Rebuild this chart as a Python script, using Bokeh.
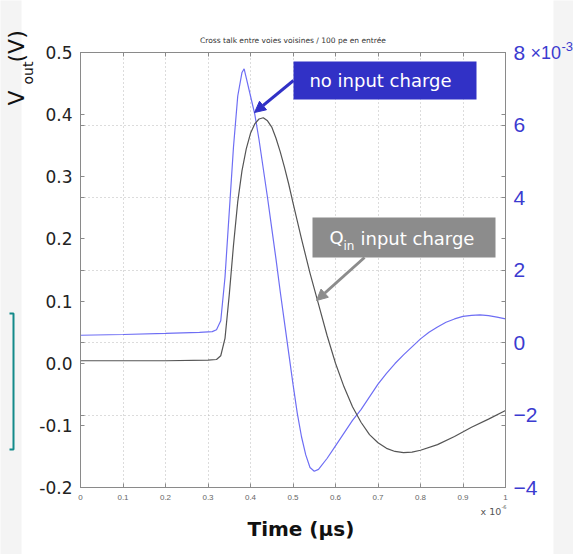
from bokeh.embed import file_html
from bokeh.models import (Arrow, BoxAnnotation, CustomJSTickFormatter, FixedTicker,
                          Grid, Label, LinearAxis, NormalHead, Range1d, Title)
from bokeh.plotting import figure
from bokeh.resources import INLINE

# ---- data -----------------------------------------------------------------
# Output with input charge Q_in (left axis, V); time in units of 1e-6 s
t_qin = [0.00, 0.10, 0.20, 0.30, 0.32, 0.33, 0.34, 0.35, 0.36, 0.37, 0.38,
         0.39, 0.40, 0.41, 0.42, 0.43, 0.44, 0.45, 0.46, 0.47, 0.48, 0.49,
         0.50, 0.52, 0.54, 0.56, 0.58, 0.60, 0.62, 0.64, 0.66, 0.68, 0.70,
         0.72, 0.74, 0.76, 0.78, 0.80, 0.84, 0.88, 0.92, 0.96, 1.00]
v_qin = [0.004, 0.004, 0.004, 0.005, 0.006, 0.012, 0.040, 0.110, 0.190,
         0.260, 0.310, 0.345, 0.370, 0.385, 0.393, 0.395, 0.390, 0.380,
         0.362, 0.340, 0.315, 0.288, 0.258, 0.200, 0.145, 0.095, 0.045,
         0.000, -0.038, -0.070, -0.095, -0.115, -0.128, -0.137, -0.142,
         -0.144, -0.143, -0.140, -0.131, -0.118, -0.103, -0.090, -0.076]

# Crosstalk on the neighbouring channel, no input charge (right axis, x1e-3 V)
t_noq = [0.00, 0.10, 0.20, 0.28, 0.31, 0.32, 0.33, 0.34, 0.35, 0.36, 0.37,
         0.38, 0.385, 0.39, 0.40, 0.41, 0.42, 0.43, 0.44, 0.45, 0.46, 0.47,
         0.48, 0.49, 0.50, 0.51, 0.52, 0.53, 0.54, 0.55, 0.56, 0.58, 0.60,
         0.62, 0.64, 0.66, 0.68, 0.70, 0.72, 0.74, 0.76, 0.78, 0.80, 0.82,
         0.84, 0.86, 0.88, 0.90, 0.92, 0.94, 0.96, 0.98, 1.00]
v_noq = [0.20, 0.22, 0.25, 0.28, 0.30, 0.35, 0.60, 1.80, 3.60, 5.40, 6.80,
         7.45, 7.55, 7.30, 6.80, 6.30, 5.60, 4.80, 4.00, 3.15, 2.30, 1.40,
         0.55, -0.30, -1.15, -1.95, -2.60, -3.10, -3.45, -3.55, -3.50, -3.20,
         -2.85, -2.50, -2.15, -1.85, -1.50, -1.15, -0.85, -0.58, -0.34,
         -0.12, 0.10, 0.28, 0.43, 0.56, 0.65, 0.72, 0.75, 0.76, 0.74, 0.70,
         0.65]

x_ticks = [0.0, 0.1, 0.2, 0.3, 0.4, 0.5, 0.6, 0.7, 0.8, 0.9, 1.0]
x_tick_labels = ["0", "0.1", "0.2", "0.3", "0.4", "0.5", "0.6", "0.7", "0.8",
                 "0.9", "1"]
left_ticks = [-0.2, -0.1, 0.0, 0.1, 0.2, 0.3, 0.4, 0.5]
left_tick_labels = ["-0.2", "-0.1", "0.0", "0.1", "0.2", "0.3", "0.4", "0.5"]
right_ticks = [-4, -2, 0, 2, 4, 6, 8]

LEFT_RANGE = (-0.2, 0.5)
RIGHT_RANGE = (-4, 8)

# ---- geometry ---------------------------------------------------------------
W, H = 573, 554
BL, BR, BT, BB = 80, 68, 52, 67
FW, FH = W - BL - BR, H - BT - BB

SANS = "Liberation Sans"
WIDE = "DejaVu Sans"
AXIS_GRAY = "#8a8a8a"
BLUE_LINE = "#6e6ef4"
BLUE_TEXT = "#3b3bd0"
BLUE_BOX = "#3131c6"
GRAY_BOX = "#8c8c8c"
TEAL = "#138a8a"
MARGIN_GRAY = "#f4f4f4"


def dx(px):
    """canvas x pixel -> data x"""
    return (px - BL) / FW


def dy(py):
    """canvas y pixel -> left-axis data y"""
    lo, hi = LEFT_RANGE
    return hi - (py - BT) / FH * (hi - lo)


def right_to_left(r):
    lo, hi = LEFT_RANGE
    rlo, rhi = RIGHT_RANGE
    return lo + (r - rlo) / (rhi - rlo) * (hi - lo)


def left_to_right(v):
    lo, hi = LEFT_RANGE
    rlo, rhi = RIGHT_RANGE
    return rlo + (v - lo) / (hi - lo) * (rhi - rlo)


p = figure(width=W, height=H, x_range=Range1d(0, 1),
           y_range=Range1d(*LEFT_RANGE), x_axis_type=None, y_axis_type=None,
           output_backend="svg", toolbar_location=None)
p.extra_y_ranges = {"right": Range1d(*RIGHT_RANGE)}
p.min_border_left, p.min_border_right = BL, BR
p.min_border_top, p.min_border_bottom = BT, BB
p.background_fill_color = "white"
p.border_fill_color = "white"
p.outline_line_color = AXIS_GRAY
p.outline_line_width = 1

# pale strips along the left and right page edges
for x0, x1 in [(0, 21), (553, W)]:
    p.patch([dx(x0), dx(x1), dx(x1), dx(x0)], [dy(0), dy(0), dy(H), dy(H)],
            fill_color=MARGIN_GRAY, line_color=None, level="guide")


def style_axis(ax):
    ax.axis_line_color = AXIS_GRAY
    ax.major_tick_line_color = AXIS_GRAY
    ax.minor_tick_line_color = AXIS_GRAY
    ax.major_tick_in, ax.major_tick_out = 4, 0
    ax.minor_tick_in, ax.minor_tick_out = 4, 0
    ax.major_label_text_font = SANS


def side_text(place, text, size, color, offset, standoff, font=WIDE, style="normal"):
    t = Title(text=text, align="left", offset=offset, standoff=standoff,
              vertical_align="bottom", text_font=font, text_font_size=size,
              text_font_style=style, text_color=color)
    p.add_layout(t, place)


# grid: vertical at x ticks, horizontal at right-axis ticks
grid_h = [right_to_left(r) for r in right_ticks[1:-1]]
p.add_layout(Grid(dimension=0, ticker=FixedTicker(ticks=x_ticks[1:-1]),
                  grid_line_color="#b8b8b8", grid_line_dash="1 3"))
p.add_layout(Grid(dimension=1, ticker=FixedTicker(ticks=grid_h),
                  grid_line_color="#b8b8b8", grid_line_dash="1 3"))

# ---- bottom: ticks, exponent, axis title ----
xb = LinearAxis(ticker=FixedTicker(ticks=x_ticks))
style_axis(xb)
xb.major_label_overrides = {t: s for t, s in zip(x_ticks, x_tick_labels)}
xb.major_label_text_font_size = "8px"
xb.major_label_text_color = "#666666"
xb.major_label_standoff = 7
p.add_layout(xb, "below")
side_text("below", "-6", "5px", "#555555", offset=421, standoff=1)
side_text("below", "x 10", "9.5px", "#555555", offset=400, standoff=-11)
side_text("below", "Time (µs)", "20px", "#111111", offset=167, standoff=7, style="bold")

# ---- top: mirrored ticks, exponent of the right axis, chart title ----
xt = LinearAxis(ticker=FixedTicker(ticks=x_ticks),
                formatter=CustomJSTickFormatter(code="return ''"))
style_axis(xt)
xt.major_label_text_font_size = "1px"
xt.major_label_standoff = 0
p.add_layout(xt, "above")
side_text("above", "×10", "18px", BLUE_TEXT, offset=450, standoff=-20, font=SANS)
side_text("above", "-3", "13px", BLUE_TEXT, offset=481, standoff=-1, font=SANS)

p.title.text = "Cross talk entre voies voisines / 100 pe en entrée"
p.title.align = "center"
p.title.text_font = WIDE
p.title.text_font_size = "7.5px"
p.title.text_font_style = "normal"
p.title.text_color = "#333333"
p.title.standoff = -8

# ---- left: V_out (V) ----
yl = LinearAxis(ticker=FixedTicker(ticks=left_ticks, minor_ticks=grid_h))
style_axis(yl)
yl.major_label_overrides = {t: s for t, s in zip(left_ticks, left_tick_labels)}
yl.major_label_text_font = WIDE
yl.major_label_text_font_size = "17px"
yl.major_label_text_color = "#222222"
yl.major_label_standoff = 8
p.add_layout(yl, "left")
side_text("left", "out", "14px", "#111111", offset=403, standoff=2)
side_text("left", "V\u00a0\u00a0\u00a0\u00a0(V)", "22px", "#111111", offset=382,
          standoff=-25)

# ---- right axis (x1e-3) ----
yr = LinearAxis(y_range_name="right",
                ticker=FixedTicker(ticks=right_ticks,
                                   minor_ticks=[left_to_right(v) for v in left_ticks[1:-1]]))
style_axis(yr)
yr.major_label_text_font_size = "21px"
yr.major_label_text_color = BLUE_TEXT
yr.major_label_standoff = 8
p.add_layout(yr, "right")

# ---- curves ----
p.line(t_noq, v_noq, y_range_name="right", line_color=BLUE_LINE, line_width=1.2)
p.line(t_qin, v_qin, line_color="#555555", line_width=1.2)


def label(px, py, text, size, color, **kw):
    kw.setdefault("text_align", "left")
    p.add_layout(Label(x=dx(px), y=dy(py), text=text, text_baseline="middle",
                       text_color=color, text_font=WIDE, text_font_size=size, **kw))


# ---- callouts ----
p.add_layout(BoxAnnotation(left=dx(293), right=dx(476), top=dy(61), bottom=dy(99),
                           fill_color=BLUE_BOX, fill_alpha=1, line_alpha=0))
label(380, 80, "no input charge", "18px", "white", text_align="center")
p.add_layout(Arrow(end=NormalHead(size=11, fill_color=BLUE_BOX, line_color=BLUE_BOX),
                   x_start=dx(293), y_start=dy(80), x_end=dx(254), y_end=dy(112),
                   line_color=BLUE_BOX, line_width=3))

p.add_layout(BoxAnnotation(left=dx(312), right=dx(495), top=dy(217), bottom=dy(257),
                           fill_color=GRAY_BOX, fill_alpha=1, line_alpha=0))
label(329, 237, "Q", "18px", "white")
label(343, 245, "in", "12px", "white")
label(360, 238, "input charge", "18px", "white")
p.add_layout(Arrow(end=NormalHead(size=11, fill_color=GRAY_BOX, line_color=GRAY_BOX),
                   x_start=dx(364), y_start=dy(257), x_end=dx(316), y_end=dy(300),
                   line_color=GRAY_BOX, line_width=3))

# ---- teal bracket in the left margin ----
bracket_x = [dx(9), dx(13), dx(13), dx(9)]
bracket_y = [dy(313), dy(313), dy(449), dy(449)]
p.line(bracket_x, bracket_y, line_color=TEAL, line_width=2, level="overlay")

open("out.html", "w").write(file_html(p, INLINE))
